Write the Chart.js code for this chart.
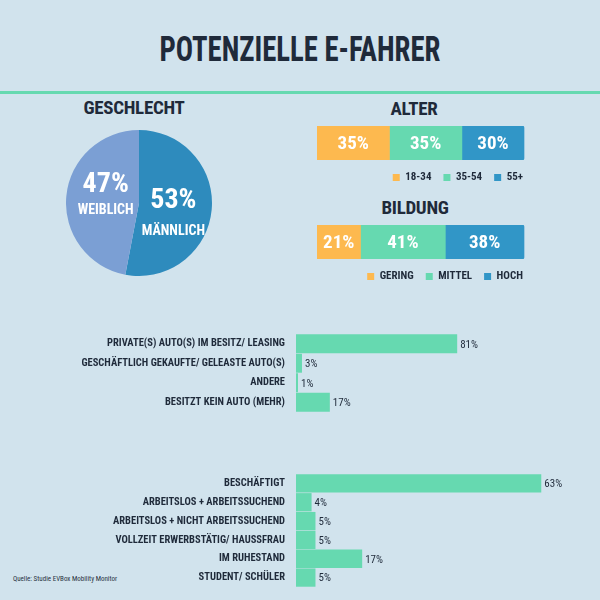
<!DOCTYPE html>
<html>
<head>
<meta charset="utf-8">
<script src="https://cdn.jsdelivr.net/npm/chart.js@4.4.0/dist/chart.umd.min.js"></script>
<style>
  html, body { margin: 0; padding: 0; }
  body { width: 600px; height: 600px; background: #d1e3ed; position: relative; overflow: hidden;
         font-family: "Roboto Condensed", "DejaVu Sans Condensed", sans-serif; color: #1f2a3a; }
  h1 { position: absolute; left: 0; width: 600px; top: 30px; margin: 0; text-align: center;
       font-size: 35px; line-height: 40px; font-weight: bold; transform: scaleX(0.82); transform-origin: 300px 0; }
  .rule { position: absolute; left: 0; top: 91px; width: 600px; height: 3px; background: #66d9b0; }
  .head { position: absolute; font-size: 19px; line-height: 20px; font-weight: bold; text-align: center; width: 200px;
          letter-spacing: -0.3px; }
  .src { position: absolute; left: 13px; top: 574px; font-size: 7px; line-height: 10px; color: #2a3442; }
  canvas { position: absolute; }
</style>
</head>
<body>
<h1>POTENZIELLE E-FAHRER</h1>
<div class="rule"></div>
<div class="head" style="left:34px; top:98px;">GESCHLECHT</div>
<div class="head" style="left:314px; top:99px;">ALTER</div>
<div class="head" style="left:315px; top:198px;">BILDUNG</div>
<div class="src">Quelle: Studie EVBox Mobility Monitor</div>

<canvas id="pie" style="left:66px; top:130px;" width="146" height="146"></canvas>
<canvas id="alter" style="left:317px; top:126px;" width="218" height="67"></canvas>
<canvas id="bildung" style="left:317px; top:225px;" width="218" height="67"></canvas>
<canvas id="auto" style="left:0; top:334px;" width="600" height="78"></canvas>
<canvas id="job" style="left:0; top:474px;" width="600" height="113"></canvas>

<script>
const FONT = '"Roboto Condensed", "DejaVu Sans Condensed", sans-serif';
const DARK = '#1f2a3a';
const ORANGE = '#fdb94f', TEAL = '#66d9b0', BLUE = '#3196c7';

// Geschlecht
const genderLabels = ['MÄNNLICH', 'WEIBLICH'];
const genderValues = [53, 47];
const genderColors = ['#2e8bbd', '#7b9fd4'];

// Alter
const ageLabels = ['18-34', '35-54', '55+'];
const ageValues = [35, 35, 30];

// Bildung
const eduLabels = ['GERING', 'MITTEL', 'HOCH'];
const eduValues = [21, 41, 38];

// Auto
const autoLabels = ['PRIVATE(S) AUTO(S) IM BESITZ/ LEASING', 'GESCHÄFTLICH GEKAUFTE/ GELEASTE AUTO(S)', 'ANDERE', 'BESITZT KEIN AUTO (MEHR)'];
const autoValues = [81, 3, 1, 17];

// Beschäftigung
const jobLabels = ['BESCHÄFTIGT', 'ARBEITSLOS + ARBEITSSUCHEND', 'ARBEITSLOS + NICHT ARBEITSSUCHEND', 'VOLLZEIT ERWERBSTÄTIG/ HAUSSFRAU', 'IM RUHESTAND', 'STUDENT/ SCHÜLER'];
const jobValues = [63, 4, 5, 5, 17, 5];

Chart.defaults.font.family = FONT;
Chart.defaults.animation = false;

// pie labels, offsets relative to arc centre
const pieLabelPlugin = {
    id: 'pieLabels',
    afterDatasetsDraw(chart) {
        const ctx = chart.ctx;
        const offs = [[-2, -5, 30], [3, -15, 26]];
        chart.getDatasetMeta(0).data.forEach((arc, i) => {
            const p = arc.tooltipPosition();
            const x = p.x + offs[i][0], y = p.y + offs[i][1];
            ctx.save();
            ctx.fillStyle = '#fff';
            ctx.textAlign = 'center';
            ctx.textBaseline = 'middle';
            ctx.font = 'bold 28px ' + FONT;
            ctx.fillText(genderValues[i] + '%', x, y);
            ctx.font = 'bold 14px ' + FONT;
            ctx.fillText(genderLabels[i], x, y + offs[i][2]);
            ctx.restore();
        });
    }
};

new Chart(document.getElementById('pie'), {
    type: 'pie',
    data: { labels: genderLabels, datasets: [{ data: genderValues, backgroundColor: genderColors, borderWidth: 0 }] },
    options: {
        responsive: false,
        plugins: { legend: { display: false }, tooltip: { enabled: false } }
    },
    plugins: [pieLabelPlugin]
});

// labels inside stacked segments
const segLabelPlugin = {
    id: 'segLabels',
    afterDatasetsDraw(chart) {
        const ctx = chart.ctx;
        chart.data.datasets.forEach((ds, i) => {
            chart.getDatasetMeta(i).data.forEach((bar, j) => {
                ctx.save();
                ctx.fillStyle = '#fff';
                ctx.textAlign = 'center';
                ctx.textBaseline = 'middle';
                ctx.font = 'bold 19px ' + FONT;
                ctx.fillText(ds.data[j] + '%', (bar.x + bar.base) / 2, bar.y + 1);
                ctx.restore();
            });
        });
    }
};

function stacked(id, labels, values) {
    const colors = [ORANGE, TEAL, BLUE];
    new Chart(document.getElementById(id), {
        type: 'bar',
        data: {
            labels: [''],
            datasets: labels.map((l, i) => ({
                label: l, data: [values[i]], backgroundColor: colors[i],
                barPercentage: 1, categoryPercentage: 1,
                borderRadius: i === labels.length - 1 ? { topRight: 2, bottomRight: 2 } : 0,
                borderSkipped: false
            }))
        },
        options: {
            responsive: false,
            indexAxis: 'y',
            layout: { padding: 0 },
            scales: {
                // canvas is a bit wider than the bar so the legend lines up at the right
                x: { stacked: true, display: false, min: 0, max: 100 * 218 / 207 },
                y: { stacked: true, display: false }
            },
            plugins: {
                tooltip: { enabled: false },
                legend: {
                    position: 'bottom', align: 'end',
                    labels: { boxWidth: 7, boxHeight: 7, padding: 12, color: DARK, font: { size: 11, weight: 'bold' } }
                }
            }
        },
        plugins: [segLabelPlugin]
    });
}
stacked('alter', ageLabels, ageValues);
stacked('bildung', eduLabels, eduValues);

// value labels after bars
const valueLabelPlugin = {
    id: 'valueLabels',
    afterDatasetsDraw(chart) {
        const ctx = chart.ctx;
        const ds = chart.data.datasets[0];
        chart.getDatasetMeta(0).data.forEach((bar, j) => {
            ctx.save();
            ctx.fillStyle = DARK;
            ctx.textAlign = 'left';
            ctx.textBaseline = 'middle';
            ctx.font = '11px ' + FONT;
            ctx.fillText(ds.data[j] + '%', bar.x + 3, bar.y + 1);
            ctx.restore();
        });
    }
};

function hbar(id, labels, values, max, padRight) {
    new Chart(document.getElementById(id), {
        type: 'bar',
        data: { labels: labels, datasets: [{ data: values, backgroundColor: TEAL, barPercentage: 0.97, categoryPercentage: 1 }] },
        options: {
            responsive: false,
            indexAxis: 'y',
            layout: { padding: { left: 0, right: padRight, top: 0, bottom: 0 } },
            scales: {
                x: { display: false, min: 0, max: max },
                y: {
                    grid: { display: false, drawTicks: false }, border: { display: false },
                    ticks: { padding: 11, color: DARK, font: { size: 10.5, weight: 'bold' } },
                    afterFit(s) { s.width = 296; s.paddingTop = 0; s.paddingBottom = 0; }
                }
            },
            plugins: { legend: { display: false }, tooltip: { enabled: false } }
        },
        plugins: [valueLabelPlugin]
    });
}
hbar('auto', autoLabels, autoValues, 100, 105);
hbar('job', jobLabels, jobValues, 75, 12);
</script>
</body>
</html>
